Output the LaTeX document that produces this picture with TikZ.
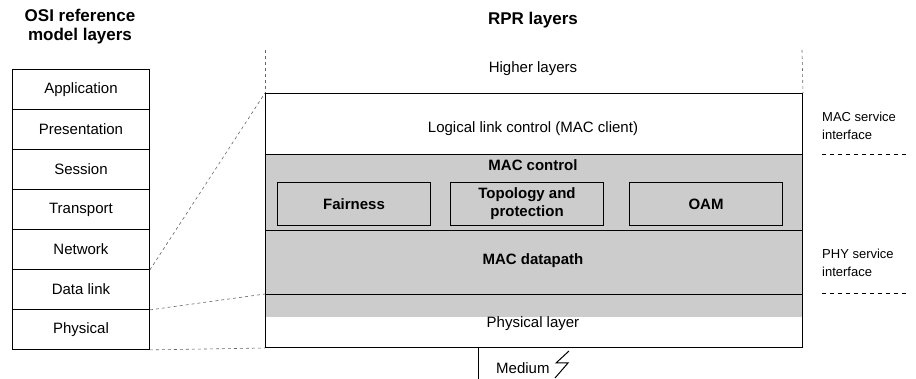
\documentclass[tikz,border=0pt]{standalone}
\usepackage{fontspec}
\setmainfont{Liberation Sans}
\begin{document}
\begin{tikzpicture}[x=1pt,y=-1pt,
 osi/.style={draw, line width=0.9pt, minimum width=137pt, minimum height=40pt, inner sep=0pt, font=\fontsize{15}{17}\selectfont, anchor=north west},
 layer/.style={draw, line width=1pt, minimum width=537pt, inner sep=0pt, anchor=north west},
 lbl/.style={font=\fontsize{15}{17}\selectfont, inner sep=0pt},
 blbl/.style={font=\fontsize{15}{17}\selectfont\bfseries, inner sep=0pt},
 sub/.style={draw, line width=1pt, minimum width=153pt, minimum height=43pt, anchor=north west, inner sep=0pt, align=center, font=\fontsize{15}{18}\selectfont\bfseries},
 side/.style={font=\fontsize{13}{18}\selectfont, align=left, anchor=north west, inner sep=0pt},
 title/.style={font=\fontsize{17}{19}\selectfont\bfseries, align=center, inner sep=0pt},
 guide/.style={dashed, dash pattern=on 3pt off 3pt, line width=0.6pt, black!60},
 iface/.style={dash pattern=on 4pt off 4pt, line width=1pt},
 shade/.style={fill=black!20},
]
\useasboundingbox (0,0) rectangle (916,379);
% titles
\node[title] (osititle) at (80,27) {OSI reference\\model layers};
\node[title] (rprtitle) at (533,20) {RPR layers};
% OSI stack
\node[osi] (app)  at (12,69)  {Application};
\node[osi] (pres) at (12,109) {Presentation};
\node[osi] (sess) at (12,149) {Session};
\node[osi] (trans) at (12,189) {Transport};
\node[osi] (net)  at (12,229) {Network};
\node[osi] (dl)   at (12,269) {Data link};
\node[osi] (phys) at (12,309) {Physical};
% shaded region
\fill[shade] (265,154) rectangle (802,317);
% RPR layers
\node[layer, minimum height=61pt] (llc) at (265,93) {};
\node[layer, minimum height=76pt] (mac) at (265,154) {};
\node[layer, minimum height=64pt] (dp)  at (265,230) {};
\node[layer, minimum height=53pt] (phy) at (265,294) {};
\node[lbl] (higher) at (533,69) {Higher layers};
\node[lbl] (llctext) at (533,129) {Logical link control (MAC client)};
\node[blbl] (mactext) at (533,165) {MAC control};
\node[blbl] (dptext) at (533,261) {MAC datapath};
\node[lbl] (phytext) at (533,324) {Physical layer};
% sub boxes
\node[sub] (fair) at (277,182) {Fairness};
\node[sub] (topo) at (450,182) {Topology and\\protection};
\node[sub] (oam)  at (629,182) {OAM};
% higher layer guides
\coordinate (hlL) at (265,50);
\coordinate (hlR) at (802,50);
\draw[guide] (hlL) -- (llc.north west);
\draw[guide] (hlR) -- (llc.north east);
% mapping guides
\draw[guide] (net.south east) -- (llc.north west);
\draw[guide] (dl.south east) -- (phy.north west);
\draw[guide] (phys.south east) -- (phy.south west);
% medium
\coordinate (medbot) at (478,379);
\draw[line width=1pt] (phy.south -| medbot) -- (medbot);
\node[lbl, anchor=west] (medium) at (496,368) {Medium};
\coordinate (b1) at (569,351);
\coordinate (b2) at (556,363);
\coordinate (b3) at (568,363);
\coordinate (b4) at (555,378);
\draw[line width=1pt] (b1) -- (b2) -- (b3) -- (b4);
% service interfaces
\node[side] (macsi) at (822,112) {MAC service\\interface};
\node[side] (physi) at (822,249) {PHY service\\interface};
\coordinate (m1) at (822,155);
\coordinate (m2) at (908,155);
\coordinate (p1) at (822,294);
\coordinate (p2) at (908,294);
\draw[iface] (m1) -- (m2);
\draw[iface] (p1) -- (p2);
\end{tikzpicture}
\end{document}
